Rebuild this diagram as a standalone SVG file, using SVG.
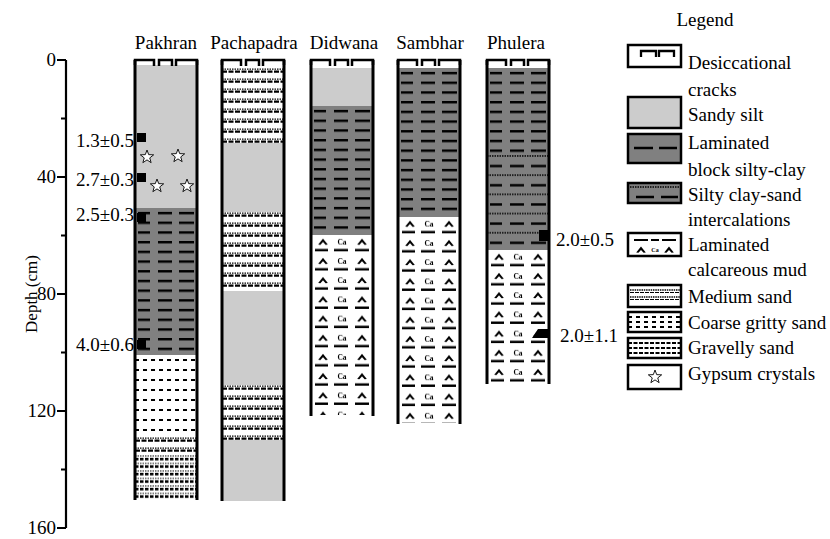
<svg xmlns="http://www.w3.org/2000/svg" width="830" height="539" viewBox="0 0 830 539" font-family="'Liberation Serif','DejaVu Serif','Times New Roman',serif">
<style>
text{font-family:"Liberation Serif","DejaVu Serif","Times New Roman",serif;font-size:19px;fill:#000}
.lbl{text-anchor:middle}
.ax{text-anchor:end}
.bd{stroke:#000;stroke-width:3;fill:none}
.ck{stroke:#000;stroke-width:2.3;fill:none}
.lg{stroke:#000;stroke-width:2.5}
.silt{fill:#cccccc}
.ca{font-size:7.5px;font-weight:bold;text-anchor:middle}
</style>
<defs>
<pattern id="lam" patternUnits="userSpaceOnUse" width="62" height="9.7">
<rect width="62" height="9.7" fill="#808080"/>
<path d="M3,5H15M23,5H37M44,5H59" stroke="#000" stroke-width="2.4"/>
</pattern>
<pattern id="int" patternUnits="userSpaceOnUse" width="62" height="19.2">
<rect width="62" height="19.2" fill="#808080"/>
<path d="M0,1H62" stroke="#000" stroke-width="1.6" stroke-dasharray="1.5 1"/>
<path d="M3,11H15M23,11H37M44,11H59" stroke="#000" stroke-width="2.4"/>
</pattern>
<path id="chev" d="M-4.8,4.5L0,-1.5L4.8,4.5L2.6,4.8L0,2L-2.6,4.8Z"/>
<pattern id="calc" patternUnits="userSpaceOnUse" width="62" height="19.2">
<rect width="62" height="19.2" fill="#fff"/>
<use href="#chev" x="12" y="5"/>
<use href="#chev" x="51" y="5"/>
<text x="31" y="10" class="ca">Ca</text>
<path d="M4,15H17M23,15H37M44,15H58" stroke="#000" stroke-width="2.4"/>
</pattern>
<pattern id="med" patternUnits="userSpaceOnUse" width="62" height="10">
<rect width="62" height="10" fill="#fff"/>
<path d="M0,1.2H62" stroke="#000" stroke-width="1.2" stroke-dasharray="1.5 1"/>
<path d="M0,3.6H62" stroke="#000" stroke-width="2.2" stroke-dasharray="5 1.5"/>
</pattern>
<pattern id="coarse" patternUnits="userSpaceOnUse" width="62" height="10">
<rect width="62" height="10" fill="#fff"/>
<path d="M0,5H62" stroke="#000" stroke-width="2" stroke-dasharray="4 4"/>
</pattern>
<pattern id="grav" patternUnits="userSpaceOnUse" width="62" height="7.5">
<rect width="62" height="7.5" fill="#fff"/>
<path d="M0,1H62" stroke="#000" stroke-width="1" stroke-dasharray="1.5 1"/>
<path d="M0,4H62" stroke="#000" stroke-width="2.6" stroke-dasharray="3.5 1.5"/>
</pattern>
<polygon id="star" points="0,-7 1.7,-2.35 6.66,-2.16 2.76,0.9 4.11,5.66 0,2.9 -4.11,5.66 -2.76,0.9 -6.66,-2.16 -1.7,-2.35" fill="#fff" stroke="#000" stroke-width="0.9"/>
<path id="crk" d="M0,5V0H19V6M24,6V0H37V6M41,6V0H62V5" stroke="#000" stroke-width="2.5" fill="none"/>
</defs>

<g id="axis">
<path d="M66,60V528M57,60H66M57,177H66M57,294H66M57,411H66M57,528H66M61,118.5H66M61,235.5H66M61,352.5H66M61,469.5H66" stroke="#000" stroke-width="2.2" fill="none"/>
<text x="56" y="66" class="ax">0</text>
<text x="56" y="183" class="ax">40</text>
<text x="56" y="300" class="ax">80</text>
<text x="56" y="417" class="ax">120</text>
<text x="56" y="534" class="ax">160</text>
<text transform="translate(37,294) rotate(-90)" class="lbl" style="font-size:17px">Depth (cm)</text>
</g>

<g id="pakhran">
<text x="166" y="49" class="lbl">Pakhran</text>
<g transform="translate(135,60)">
<rect x="0" y="5" width="62" height="143" class="silt"/>
<g transform="translate(0,148)"><rect width="62" height="147" fill="url(#lam)"/></g>
<g transform="translate(0,295)"><rect width="62" height="82" fill="url(#coarse)"/></g>
<g transform="translate(0,377)"><rect width="62" height="18" fill="url(#med)"/></g>
<g transform="translate(0,395)"><rect width="62" height="44" fill="url(#grav)"/></g>
<use href="#crk"/>
<path d="M0,0V440M62,0V440" class="bd"/>
</g>
<rect x="137" y="133" width="9" height="9"/>
<rect x="137" y="173" width="9" height="9"/>
<rect x="137" y="213" width="9" height="9"/>
<rect x="137" y="340" width="9" height="9"/>
<use href="#star" x="147" y="157"/>
<use href="#star" x="178" y="156"/>
<use href="#star" x="157" y="186"/>
<use href="#star" x="187" y="186"/>
<text x="134" y="147" class="ax">1.3±0.5</text>
<text x="134" y="186" class="ax">2.7±0.3</text>
<text x="134" y="221" class="ax">2.5±0.3</text>
<text x="134" y="351" class="ax">4.0±0.6</text>
</g>

<g id="pachapadra">
<text x="254" y="49" class="lbl">Pachapadra</text>
<g transform="translate(222,60)">
<g transform="translate(0,8)"><rect width="62" height="75" fill="url(#med)"/></g>
<rect x="0" y="83" width="62" height="69" class="silt"/>
<g transform="translate(0,152)"><rect width="62" height="79" fill="url(#med)"/></g>
<rect x="0" y="231" width="62" height="94" class="silt"/>
<g transform="translate(0,325)"><rect width="62" height="55" fill="url(#med)"/></g>
<rect x="0" y="380" width="62" height="61" class="silt"/>
<use href="#crk"/>
<path d="M0,0V441M62,0V441" class="bd"/>
</g>
</g>

<g id="didwana">
<text x="344" y="49" class="lbl">Didwana</text>
<g transform="translate(311,60)">
<rect x="0" y="8" width="62" height="38" class="silt"/>
<g transform="translate(0,46)"><rect width="62" height="129" fill="url(#lam)"/></g>
<g transform="translate(0,175)"><rect width="62" height="180" fill="url(#calc)"/></g>
<use href="#crk"/>
<path d="M0,0V356M62,0V356" class="bd"/>
</g>
</g>

<g id="sambhar">
<text x="430" y="49" class="lbl">Sambhar</text>
<g transform="translate(398,60)">
<g transform="translate(0,8)"><rect width="62" height="149" fill="url(#lam)"/></g>
<g transform="translate(0,157)"><rect width="62" height="206" fill="url(#calc)"/></g>
<use href="#crk"/>
<path d="M0,0V364M62,0V364" class="bd"/>
</g>
</g>

<g id="phulera">
<text x="516" y="49" class="lbl">Phulera</text>
<g transform="translate(487,60)">
<g transform="translate(0,8)"><rect width="62" height="87" fill="url(#lam)"/></g>
<g transform="translate(0,95)"><rect width="62" height="95" fill="url(#int)"/></g>
<g transform="translate(0,190)"><rect width="62" height="133" fill="url(#calc)"/></g>
<use href="#crk"/>
<path d="M0,0V324M62,0V324" class="bd"/>
</g>
<rect x="539" y="230" width="10" height="11"/>
<polygon points="532,338 538,329 549,329 549,338"/>
<text x="556" y="246">2.0±0.5</text>
<text x="560" y="342">2.0±1.1</text>
</g>

<g id="legend">
<text x="705" y="26" class="lbl">Legend</text>
<g id="lg-cracks">
<rect x="628" y="45" width="53" height="22" fill="#fff" class="lg"/>
<path d="M641,57V51H656V57M659,57V51H674V57" class="ck"/>
<text x="688" y="69">Desiccational</text>
<text x="688" y="96">cracks</text>
</g>
<g id="lg-silt">
<rect x="628" y="97" width="53" height="31" class="silt lg"/>
<text x="688" y="121">Sandy silt</text>
</g>
<g id="lg-lam">
<rect x="628" y="134" width="53" height="29" fill="#808080" class="lg"/>
<path d="M634,148H653M659,148H677" stroke="#000" stroke-width="2.5"/>
<text x="688" y="149">Laminated</text>
<text x="688" y="176">block silty-clay</text>
</g>
<g id="lg-int">
<rect x="628" y="183" width="53" height="20" fill="#808080" class="lg"/>
<path d="M630,187H680" stroke="#000" stroke-width="1.4" stroke-dasharray="1.5 1"/>
<path d="M636,197H654M661,197H678" stroke="#000" stroke-width="2.5"/>
<text x="688" y="201">Silty clay-sand</text>
<text x="688" y="226">intercalations</text>
</g>
<g id="lg-calc">
<rect x="628" y="233" width="53" height="23" fill="#fff" class="lg"/>
<path d="M634,240H648M651,240H659M662,240H676" stroke="#000" stroke-width="2"/>
<use href="#chev" x="641" y="248"/>
<use href="#chev" x="669" y="248"/>
<text x="655" y="252" class="ca" style="font-size:6px">Ca</text>
<text x="688" y="251">Laminated</text>
<text x="688" y="276">calcareous mud</text>
</g>
<g id="lg-med">
<rect x="628" y="285" width="53" height="22" fill="#fff" class="lg"/>
<path d="M630,290H680M630,297H680" stroke="#000" stroke-width="1.4" stroke-dasharray="1.5 0.8"/>
<path d="M630,292.5H680M630,299.5H680" stroke="#000" stroke-width="1" stroke-dasharray="4 1"/>
<text x="688" y="303">Medium sand</text>
</g>
<g id="lg-coarse">
<rect x="628" y="312" width="53" height="20" fill="#fff" class="lg"/>
<path d="M628,317H681M628,322H681M628,327H681" stroke="#000" stroke-width="1.8" stroke-dasharray="4 4"/>
<text x="688" y="329">Coarse gritty sand</text>
</g>
<g id="lg-grav">
<rect x="628" y="338" width="53" height="20" fill="#fff" class="lg"/>
<path d="M628,343H681M628,348H681M628,353H681" stroke="#000" stroke-width="2.2" stroke-dasharray="4 1.5"/>
<text x="688" y="354">Gravelly sand</text>
</g>
<g id="lg-gyp">
<rect x="628" y="365" width="53" height="24" fill="#fff" class="lg"/>
<use href="#star" x="655" y="377"/>
<text x="688" y="380">Gypsum crystals</text>
</g>
</g>
</svg>
